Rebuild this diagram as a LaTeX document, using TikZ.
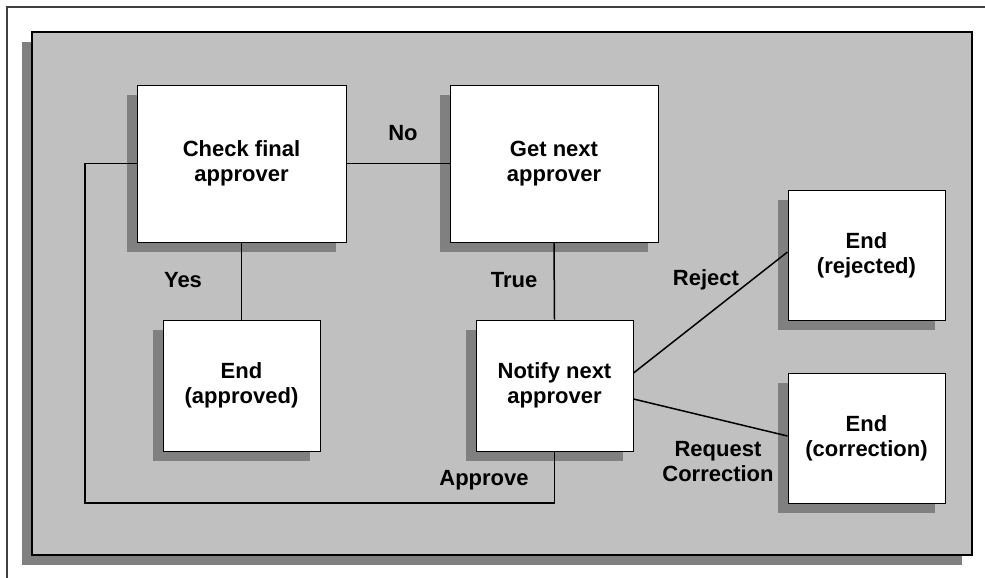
\documentclass[tikz,border=0pt]{standalone}
\usepackage{fontspec}
\setmainfont{Liberation Sans}
\usetikzlibrary{shadows}
\definecolor{panelgray}{HTML}{C0C0C0}
\definecolor{shadowgray}{HTML}{808080}
\tikzset{
  flowbox/.style={draw=black, line width=1pt, fill=white, align=center,
    font=\fontsize{22}{25}\selectfont\bfseries, inner sep=0pt,
    drop shadow={shadow xshift=-10pt, shadow yshift=-10pt, fill=shadowgray, opacity=1}},
  flowlabel/.style={font=\fontsize{22}{25}\selectfont\bfseries, align=center, inner sep=0pt},
  link/.style={line width=1.5pt}
}
\begin{document}
\begin{tikzpicture}[x=1pt, y=-1pt]
  \useasboundingbox (0,0) rectangle (985,578);
  \clip (0,0) rectangle (985,578);
  \fill [white] (0,0) rectangle (985,578);
  \draw [line width=1.5pt, draw=black!75] (7,7) rectangle (995,590);
  % panel
  \fill [shadowgray] (22,42) rectangle (962,565);
  \draw [line width=1.5pt, fill=panelgray] (32,32) rectangle (972,555);
  % boxes
  \node [flowbox, minimum width=209pt, minimum height=157pt] (check) at (241.5,163.5) {Check final\\approver};
  \node [flowbox, minimum width=208pt, minimum height=157pt] (next) at (554,163.5) {Get next\\approver};
  \node [flowbox, minimum width=157pt, minimum height=131pt] (approved) at (241.5,385.5) {End\\(approved)};
  \node [flowbox, minimum width=157pt, minimum height=131pt] (notify) at (554.5,385.5) {Notify next\\approver};
  \node [flowbox, minimum width=157pt, minimum height=130pt] (rejected) at (866.5,255) {End\\(rejected)};
  \node [flowbox, minimum width=157pt, minimum height=130pt] (correction) at (866.5,438) {End\\(correction)};
  % connectors
  \draw [link] (check.east) -- (next.west);
  \draw [link] (check.south) -- (approved.north);
  \draw [link] (next.south) -- (notify.north);
  \draw [link] ([yshift=12.5pt]notify.east) -- ([yshift=3pt]rejected.west);
  \draw [link] ([yshift=-13.5pt]notify.east) -- ([yshift=2pt]correction.west);
  \draw [link] (notify.south) -- (notify.south |- 0,503) -- (85,503) -- (85,163.5) -- (check.west);
  % labels
  \node [flowlabel] (lno) at (403,133) {No};
  \node [flowlabel] (lyes) at (183,280) {Yes};
  \node [flowlabel] (ltrue) at (514,280) {True};
  \node [flowlabel] (lreject) at (706,280) {Reject};
  \node [flowlabel] (lcorr) at (718,462) {Request\\Correction};
  \node [flowlabel] (lapprove) at (484,480) {Approve};
\end{tikzpicture}
\end{document}
